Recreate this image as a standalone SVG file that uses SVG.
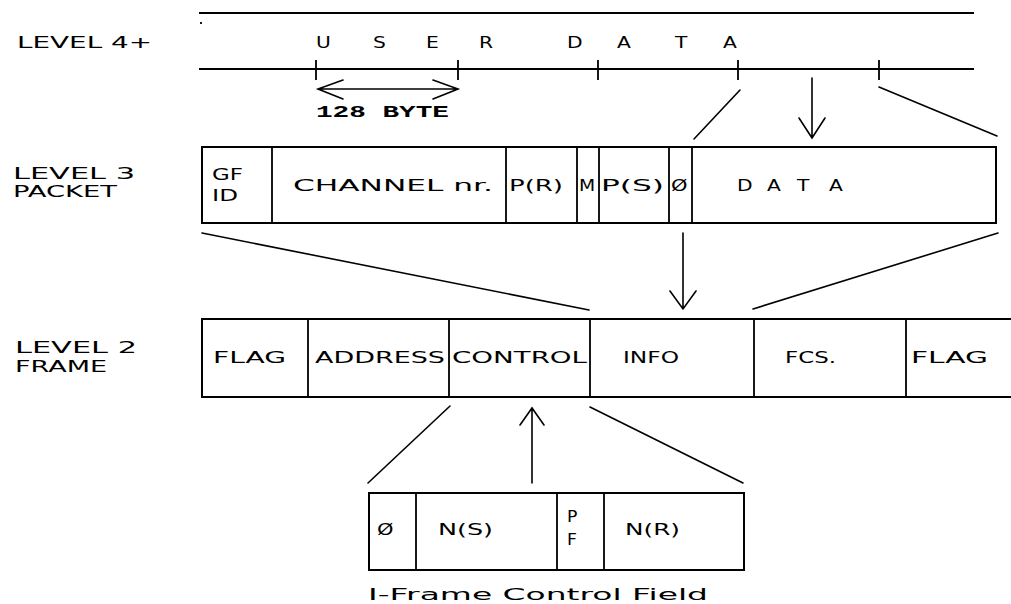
<svg xmlns="http://www.w3.org/2000/svg" width="1011" height="604" viewBox="0 0 1011 604">
  <style>
    .t { font-family: "DejaVu Sans", "Liberation Sans", sans-serif; font-size: 15px; fill: #000; }
    .s { font-family: "Liberation Mono", monospace; font-size: 17px; font-weight: bold; fill: #000; }
    .box { fill: #fff; stroke: #000; stroke-width: 2; }
    .div { stroke: #000; stroke-width: 1.8; fill: none; }
    .rule { stroke: #000; stroke-width: 2; fill: none; }
    .con { stroke: #000; stroke-width: 1.6; fill: none; stroke-linecap: round; }
  </style>
  <rect width="1011" height="604" fill="#fff"/>

  <!-- level labels -->
  <g id="labels">
    <text class="t" x="17" y="48" textLength="135" lengthAdjust="spacingAndGlyphs">LEVEL 4+</text>
    <text class="t" x="13" y="179" textLength="122" lengthAdjust="spacingAndGlyphs">LEVEL 3</text>
    <text class="t" x="13" y="197" textLength="104" lengthAdjust="spacingAndGlyphs">PACKET</text>
    <text class="t" x="15" y="353" textLength="122" lengthAdjust="spacingAndGlyphs">LEVEL 2</text>
    <text class="t" x="15" y="372" textLength="92" lengthAdjust="spacingAndGlyphs">FRAME</text>
  </g>

  <!-- level 4+: user data stream -->
  <g id="user-data">
    <path class="rule" d="M199 13 H974"/>
    <path class="div" d="M201 22 v2"/>
    <path class="rule" d="M199 69 H974"/>
    <path class="div" d="M316 60 V80 M458 60 V80 M598 60 V80 M738 60 V80 M879 60 V80"/>
    <text class="t" transform="translate(316 48) scale(1.35 1)">U</text>
    <text class="t" transform="translate(373 48) scale(1.35 1)">S</text>
    <text class="t" transform="translate(426 48) scale(1.35 1)">E</text>
    <text class="t" transform="translate(479 48) scale(1.35 1)">R</text>
    <text class="t" transform="translate(567 48) scale(1.35 1)">D</text>
    <text class="t" transform="translate(617 48) scale(1.35 1)">A</text>
    <text class="t" transform="translate(675 48) scale(1.35 1)">T</text>
    <text class="t" transform="translate(723 48) scale(1.35 1)">A</text>
    <path class="con" d="M318 89 H458 M343 80 L318 89 L343 99 M433 80 L458 89 L433 99"/>
    <text class="s" x="316" y="117" textLength="133" lengthAdjust="spacingAndGlyphs">128 BYTE</text>
  </g>

  <!-- level 3: packet -->
  <g id="packet">
    <rect class="box" x="202" y="147" width="794" height="76"/>
    <path class="div" d="M272 147 V223 M506 147 V223 M577 147 V223 M599 147 V223 M669 147 V223 M692 147 V223"/>
    <text class="t" x="212" y="180" textLength="31" lengthAdjust="spacingAndGlyphs">GF</text>
    <text class="t" x="212" y="201" textLength="26" lengthAdjust="spacingAndGlyphs">ID</text>
    <text class="t" x="293" y="191" textLength="200" lengthAdjust="spacingAndGlyphs">CHANNEL nr.</text>
    <text class="t" x="509" y="191" textLength="54" lengthAdjust="spacingAndGlyphs">P(R)</text>
    <text class="t" transform="translate(579 191) scale(1.25 1)">M</text>
    <text class="t" x="601" y="191" textLength="63" lengthAdjust="spacingAndGlyphs">P(S)</text>
    <text class="t" transform="translate(671 191) scale(1.4 1)">Ø</text>
    <text class="t" transform="translate(737 191) scale(1.35 1)">D</text>
    <text class="t" transform="translate(767 191) scale(1.35 1)">A</text>
    <text class="t" transform="translate(797 191) scale(1.35 1)">T</text>
    <text class="t" transform="translate(829 191) scale(1.35 1)">A</text>
  </g>

  <!-- level 2: frame -->
  <g id="frame">
    <path class="rule" d="M1011 319 H202 V397 H1011"/>
    <path class="div" d="M308 319 V397 M449 319 V397 M590 319 V397 M754 319 V397 M906 319 V397"/>
    <text class="t" x="213" y="363" textLength="73" lengthAdjust="spacingAndGlyphs">FLAG</text>
    <text class="t" x="315" y="363" textLength="130" lengthAdjust="spacingAndGlyphs">ADDRESS</text>
    <text class="t" x="452" y="363" textLength="135" lengthAdjust="spacingAndGlyphs">CONTROL</text>
    <text class="t" x="623" y="363" textLength="56" lengthAdjust="spacingAndGlyphs">INFO</text>
    <text class="t" x="785" y="363" textLength="51" lengthAdjust="spacingAndGlyphs">FCS.</text>
    <text class="t" x="911" y="363" textLength="77" lengthAdjust="spacingAndGlyphs">FLAG</text>
  </g>

  <!-- I-frame control field -->
  <g id="control-field">
    <rect class="box" x="369" y="493" width="375" height="77"/>
    <path class="div" d="M416 493 V570 M557 493 V570 M604 493 V570"/>
    <text class="t" transform="translate(377 535) scale(1.4 1)">Ø</text>
    <text class="t" x="438" y="535" textLength="55" lengthAdjust="spacingAndGlyphs">N(S)</text>
    <text class="t" transform="translate(567 522) scale(1.15 1)">P</text>
    <text class="t" transform="translate(567 545) scale(1.15 1)">F</text>
    <text class="t" x="625" y="535" textLength="55" lengthAdjust="spacingAndGlyphs">N(R)</text>
    <text class="t" x="368" y="600" textLength="340" lengthAdjust="spacingAndGlyphs">I-Frame Control Field</text>
  </g>

  <!-- expansion lines and arrows between levels -->
  <g id="connectors">
    <path class="con" d="M740 90 L694 139"/>
    <path class="con" d="M812 78 V138 M799 118 L812 138 L825 118"/>
    <path class="con" d="M879 87 L997 136"/>

    <path class="con" d="M202 233 L589 310"/>
    <path class="con" d="M683 233 V309 M670 291 L683 309 L696 291"/>
    <path class="con" d="M753 309 L998 233"/>

    <path class="con" d="M450 406 L368 483"/>
    <path class="con" d="M532 483 V408 M520 425 L532 408 L544 425"/>
    <path class="con" d="M590 407 L743 483"/>
  </g>
</svg>
